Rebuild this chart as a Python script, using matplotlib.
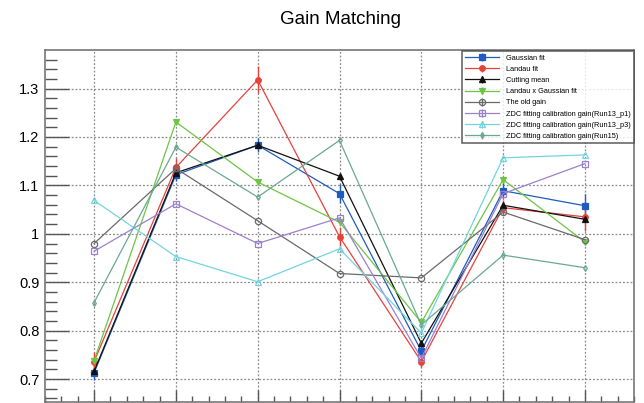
import matplotlib
matplotlib.use('Agg')
import matplotlib.pyplot as plt
from matplotlib.ticker import MultipleLocator

plt.rcParams['font.family'] = ['Liberation Sans', 'DejaVu Sans']

channels = [1, 2, 3, 4, 5, 6, 7]

gauss = [0.713, 1.122, 1.183, 1.083, 0.758, 1.089, 1.058]
gauss_err = [0.015, 0.012, 0.015, 0.019, 0.012, 0.015, 0.025]
landau = [0.736, 1.137, 1.318, 0.994, 0.736, 1.054, 1.035]
landau_err = [0.02, 0.02, 0.028, 0.02, 0.012, 0.015, 0.03]
cutmean = [0.716, 1.126, 1.183, 1.119, 0.774, 1.059, 1.030]
langau = [0.738, 1.231, 1.107, 1.024, 0.817, 1.112, 0.983]
oldgain = [0.980, 1.135, 1.027, 0.918, 0.909, 1.045, 0.988]
run13_p1 = [0.964, 1.062, 0.980, 1.033, 0.743, 1.083, 1.145]
run13_p3 = [1.069, 0.953, 0.901, 0.969, 0.795, 1.157, 1.163]
run15 = [0.858, 1.179, 1.076, 1.193, 0.812, 0.956, 0.930]

labels = ['Gaussian fit', 'Landau fit', 'Cutting mean', 'Landau x Gaussian fit',
          'The old gain', 'ZDC fitting calibration gain(Run13_p1)',
          'ZDC fitting calibration gain(Run13_p3)', 'ZDC fitting calibration gain(Run15)']

fig = plt.figure(figsize=(6.44, 4.03), dpi=100)
ax = fig.add_axes([45 / 644, 1 / 403, (634 - 45) / 644, (402 - 50) / 403])

# (values, errors, colour, marker, markersize, filled)
styles = [
    (gauss, gauss_err, '#1e5cc0', 's', 4, True),
    (landau, landau_err, '#e8413a', 'o', 4, True),
    (cutmean, None, '#111111', '^', 4, True),
    (langau, None, '#6cc644', 'v', 4, True),
    (oldgain, None, '#6a6a6a', 'o', 4.5, False),
    (run13_p1, None, '#9b80d0', 's', 4.5, False),
    (run13_p3, None, '#72d4de', '^', 4.5, False),
    (run15, None, '#6aa894', 'd', 3, False),
]

for (vals, err, col, mk, ms, filled), lab in zip(styles, labels):
    yerr = err if err is not None else [0] * len(vals)
    ax.errorbar(channels, vals, yerr=yerr, color=col, marker=mk, markersize=ms,
                markerfacecolor=col if filled else 'none', markeredgecolor=col,
                markeredgewidth=0.9, linewidth=0.9, elinewidth=1.0, capsize=0,
                label=lab)

ax.set_xlim(0.4, 7.6)
ax.set_ylim(0.6526, 1.3797)
ax.xaxis.set_major_locator(MultipleLocator(1))
ax.xaxis.set_minor_locator(MultipleLocator(0.2))
ax.yaxis.set_minor_locator(MultipleLocator(0.02))
ax.set_yticks([0.7, 0.8, 0.9, 1.0, 1.1, 1.2, 1.3])
ax.set_yticklabels(['0.7', '0.8', '0.9', '1', '1.1', '1.2', '1.3'])

ax.tick_params(axis='y', which='major', direction='in', length=17, width=1.0,
               labelsize=10.5, pad=4, color='#555555')
ax.tick_params(axis='y', which='minor', direction='in', length=8.5, width=1.0, color='#555555')
ax.tick_params(axis='x', which='major', direction='in', length=9, width=1.0,
               labelbottom=False, color='#555555')
ax.tick_params(axis='x', which='minor', direction='in', length=4, width=1.0, color='#555555')

ax.grid(True, which='major', linestyle=(0, (1.5, 1.5)), color='#8a8a8a', linewidth=0.9)
for s in ax.spines.values():
    s.set_color('#777777')
    s.set_linewidth(1.2)

fig.text(340 / 644, 1 - 20 / 403, 'Gain Matching', ha='center', va='center', fontsize=13.5)

leg = ax.legend(loc='upper right', bbox_to_anchor=(1.0, 1.0 - 1.5 / 352), fontsize=5.3,
                frameon=True, fancybox=False, handlelength=4.6, handletextpad=1.0,
                labelspacing=0.55, borderpad=0.4, borderaxespad=0)
leg.get_frame().set_edgecolor('#444444')
leg.get_frame().set_linewidth(1.2)

fig.savefig('out.png', dpi=100)
